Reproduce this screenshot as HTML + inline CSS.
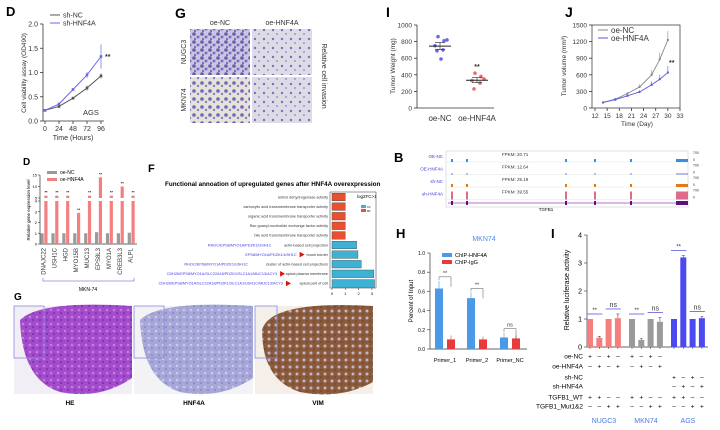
<!DOCTYPE html>
<html><head><meta charset="utf-8">
<style>
html,body{margin:0;padding:0;background:#fff;}
svg{display:block;font-family:"Liberation Sans",Arial,sans-serif;}
</style></head>
<body>
<svg id="fig" width="720" height="430" viewBox="0 0 720 430" xmlns="http://www.w3.org/2000/svg">
<defs>
<pattern id="invDense" width="8" height="8" patternUnits="userSpaceOnUse">
<rect width="8" height="8" fill="#c9c6e0"/><circle cx="2" cy="2" r="1.8" fill="#6a5cb0"/><circle cx="6" cy="5" r="1.5" fill="#7b6fc0"/><circle cx="3" cy="7" r="1" fill="#5d50a8"/>
</pattern>
<pattern id="invSparse" width="9" height="9" patternUnits="userSpaceOnUse">
<rect width="9" height="9" fill="#dcdbe6"/><circle cx="3" cy="3" r="1.2" fill="#7a70bb"/><circle cx="7" cy="7" r="0.9" fill="#8c84c4"/>
</pattern>
<pattern id="invMid" width="8" height="8" patternUnits="userSpaceOnUse">
<rect width="8" height="8" fill="#e4e2da"/><circle cx="2" cy="3" r="1.8" fill="#7466b8"/><circle cx="6" cy="6" r="1.2" fill="#8a7dc6"/>
</pattern>
<pattern id="heTex" width="7" height="7" patternUnits="userSpaceOnUse">
<rect width="7" height="7" fill="#a24ccc"/><circle cx="2" cy="2" r="1.3" fill="#c77be0"/><circle cx="5" cy="5" r="1" fill="#7a2fae"/>
</pattern>
<pattern id="hnfTex" width="7" height="7" patternUnits="userSpaceOnUse">
<rect width="7" height="7" fill="#a6a6d8"/><circle cx="2" cy="2" r="1.3" fill="#c9c9ea"/><circle cx="5" cy="5" r="1" fill="#8a88c4"/>
</pattern>
<pattern id="vimTex" width="7" height="7" patternUnits="userSpaceOnUse">
<rect width="7" height="7" fill="#8a5a3a"/><circle cx="3" cy="3" r="1.5" fill="#c4b4c8"/><circle cx="6" cy="6" r="0.8" fill="#6a3e22"/>
</pattern>
</defs>

<!-- Panel letters -->
<text x="6" y="16" font-size="13" font-weight="bold">D</text>
<text x="175" y="18" font-size="14" font-weight="bold">G</text>
<text x="386" y="17" font-size="14" font-weight="bold">I</text>
<text x="565" y="17" font-size="14" font-weight="bold">J</text>
<text x="23" y="165" font-size="10" font-weight="bold">D</text>
<text x="148" y="172" font-size="11" font-weight="bold">F</text>
<text x="394" y="162" font-size="13" font-weight="bold">B</text>
<text x="396" y="238" font-size="13" font-weight="bold">H</text>
<text x="551" y="238" font-size="13" font-weight="bold">I</text>
<text x="14" y="300" font-size="10" font-weight="bold">G</text>

<!-- Invasion images -->
<g>
<text x="220" y="25" font-size="7" text-anchor="middle" fill="#333">oe-NC</text>
<text x="282" y="25" font-size="7" text-anchor="middle" fill="#333">oe-HNF4A</text>
<rect x="190" y="29" width="60" height="46" fill="url(#invDense)"/>
<rect x="252" y="29" width="60" height="46" fill="url(#invSparse)"/>
<rect x="190" y="77" width="60" height="46" fill="url(#invMid)"/>
<rect x="252" y="77" width="60" height="46" fill="url(#invSparse)"/>
<text transform="translate(186,52) rotate(-90)" font-size="7" text-anchor="middle" fill="#333">NUGC3</text>
<text transform="translate(186,100) rotate(-90)" font-size="7" text-anchor="middle" fill="#333">MKN74</text>
<text transform="translate(322,76) rotate(90)" font-size="7" text-anchor="middle" fill="#333">Relative cell invasion</text>
</g>

<!-- Track panel B -->
<g id="tracks"></g>

<!-- Bottom IHC images -->
<g>
<rect x="14" y="306" width="118" height="88" fill="#f1eef6"/>
<path d="M20,320 Q40,300 132,306 L132,378 Q100,400 60,392 Q22,380 20,320Z" fill="url(#heTex)"/>
<rect x="14" y="306" width="30" height="52" fill="none" stroke="#8a8ae0" stroke-width="0.8"/>
<rect x="134" y="306" width="119" height="88" fill="#f3f2f4"/>
<path d="M140,320 Q160,300 253,306 L253,378 Q220,400 180,392 Q142,380 140,320Z" fill="url(#hnfTex)"/>
<rect x="134" y="306" width="30" height="52" fill="none" stroke="#8a8ae0" stroke-width="0.8"/>
<rect x="255" y="306" width="118" height="88" fill="#f4efe8"/>
<path d="M262,330 Q270,300 373,306 L373,382 Q340,400 300,392 Q262,380 262,330Z" fill="url(#vimTex)"/>
<rect x="255" y="306" width="22" height="52" fill="none" stroke="#8a8ae0" stroke-width="0.8"/>
<text x="70" y="405" font-size="6.5" font-weight="bold" text-anchor="middle">HE</text>
<text x="194" y="405" font-size="6.5" font-weight="bold" text-anchor="middle">HNF4A</text>
<text x="318" y="405" font-size="6.5" font-weight="bold" text-anchor="middle">VIM</text>
</g>
</svg>

<script>
// ---------- Data ----------
const dHours = [0, 24, 48, 72, 96];
const dShNC = [0.22, 0.30, 0.47, 0.68, 0.93];
const dShHNF4A = [0.22, 0.35, 0.65, 0.95, 1.33];
const dShNCErr = [0.02, 0.03, 0.03, 0.05, 0.05];
const dShHNF4AErr = [0.02, 0.03, 0.03, 0.06, 0.25];
const dYTicks = [0.0, 0.5, 1.0, 1.5, 2.0];

const iNC = [860, 810, 820, 750, 700, 690, 590];
const iHNF = [420, 380, 350, 330, 300, 230];
const iTicks = [0, 200, 400, 600, 800, 1000];

const jDays = [14, 17, 20, 23, 26, 28, 30];
const jNC = [100, 160, 260, 380, 600, 880, 1230];
const jHNF = [100, 150, 220, 290, 420, 520, 640];
const jNCErr = [10, 20, 25, 50, 90, 120, 160];
const jHNFErr = [10, 15, 20, 30, 60, 80, 120];
const jXTicks = [12, 15, 18, 21, 24, 27, 30, 33];
const jYTicks = [0, 300, 600, 900, 1200, 1500];

const geneNames = ["DNAJC22","USH1C","HGD","MYO15B","MUC13","EPS8L3","MYO1A","CREB3L3","ALPL"];
const geneNC = [1, 1, 1, 1, 1, 1.1, 1, 1, 1.05];
const geneHNF = [6, 6, 6, 2.9, 6, 14, 6, 10, 6];

const fTerms = ["retinol dehydrogenase activity","carboxylic acid transmembrane transporter activity","organic acid transmembrane transporter activity","Rac guanyl-nucleotide exchange factor activity","bile acid transmembrane transporter activity","actin-based cell projection","brush border","cluster of actin-based cell projections","apical plasma membrane","apical part of cell"];
const fGenes = ["","","","","","RHOC/EPS8/MYO1A/PDZK1/USH1C","EPS8/MYO1A/PDZK1/USH1C","RHOC/EPS8/MYO1A/PDZK1/USH1C","CDH26/EPS8/MYO1A/SLC22A18/PDZK1/SLC1A1/MUC13/ACY3","CDH26/EPS8/MYO1A/SLC22A18/PDZK1/SLC1A1/USH1C/MUC13/ACY3"];
const fValues = [1.0, 1.0, 1.0, 1.0, 1.0, 1.85, 1.95, 2.2, 3.15, 3.2];
const fTypes = ["MF","MF","MF","MF","MF","CC","CC","CC","CC","CC"];
const fArrow = [false,false,false,false,false,false,true,false,true,true];

const trackNames = ["OE-NC","OE-HNF4A","sh-NC","sh-HNF4A"];
const trackFPKM = ["FPKM: 20.71","FPKM: 12.64","FPKM: 25.19","FPKM: 39.55"];

const hGroups = ["Primer_1","Primer_2","Primer_NC"];
const hChip = [0.63, 0.53, 0.12];
const hIgG = [0.10, 0.10, 0.11];
const hChipErr = [0.08, 0.06, 0.05];
const hIgGErr = [0.04, 0.03, 0.03];
const hTicks = [0.0, 0.2, 0.4, 0.6, 0.8, 1.0];
const hSig = ["**","**","ns"];

const lucValues = [1, 0.33, 1, 1.03, 1, 0.25, 1, 0.9, 1, 3.2, 1, 1.03];
const lucErr = [0, 0.05, 0, 0.15, 0, 0.05, 0, 0.15, 0, 0.07, 0, 0.06];
const lucCells = ["NUGC3","MKN74","AGS"];
const lucSig = ["**","ns","**","ns","**","ns"];
const lucTicks = [0, 1, 2, 3, 4];
const lucRowLabels = ["oe-NC","oe-HNF4A","sh-NC","sh-HNF4A","TGFB1_WT","TGFB1_Mut1&2"];
const lucSigns = [
 ["+","-","+","-","+","-","+","-","","","",""],
 ["-","+","-","+","-","+","-","+","","","",""],
 ["","","","","","","","","+","-","+","-"],
 ["","","","","","","","","-","+","-","+"],
 ["+","+","-","-","+","+","-","-","+","+","-","-"],
 ["-","-","+","+","-","-","+","+","-","-","+","+"]
];

// ---------- helpers ----------
const NS = "http://www.w3.org/2000/svg";
const svg = document.getElementById("fig");
function el(tag, attrs, parent, txt) {
  const e = document.createElementNS(NS, tag);
  for (const k in attrs) e.setAttribute(k, attrs[k]);
  if (txt !== undefined) e.textContent = txt;
  (parent || svg).appendChild(e);
  return e;
}
function lin(d0, d1, r0, r1) { return v => r0 + (v - d0) * (r1 - r0) / (d1 - d0); }

// ---------- Panel D top: line chart ----------
(function(){
  const g = el("g", {});
  
  
  const x = lin(0, 96, 45, 101), y = lin(0, 2, 121, 24);
  el("line", {x1:43,y1:24,x2:43,y2:121,stroke:"#333","stroke-width":0.8}, g);
  el("line", {x1:43,y1:121,x2:104,y2:121,stroke:"#333","stroke-width":0.8}, g);
  dYTicks.forEach(t => {
    el("line", {x1:40,y1:y(t),x2:43,y2:y(t),stroke:"#333","stroke-width":0.8}, g);
    const tx = el("text", {x:38,y:y(t)+2.5,"font-size":7,"text-anchor":"end",fill:"#333"}, g, t.toFixed(1));
    
    
  });
  dHours.forEach(t => {
    el("line", {x1:x(t),y1:121,x2:x(t),y2:124,stroke:"#333","stroke-width":0.8}, g);
    const tx = el("text", {x:x(t),y:131,"font-size":7,"text-anchor":"middle",fill:"#333"}, g, t);
    
    
  });
  const xt = el("text", {x:73,y:140,"font-size":7,"text-anchor":"middle",fill:"#333"}, g, "Time (Hours)");
  
  
  const yt = el("text", {transform:"translate(26,73) rotate(-90)","font-size":6.5,"text-anchor":"middle",fill:"#333"}, g, "Cell viability assay (OD490)");
  
  
  [[dShNC, dShNCErr, "#555", "sh-nc-line"], [dShHNF4A, dShHNF4AErr, "#6a6ae8", "sh-hnf4a-line"]].forEach(([vals, errs, c, nm]) => {
    const p = el("polyline", {points: vals.map((v,i)=>x(dHours[i])+","+y(v)).join(" "), fill:"none", stroke:c, "stroke-width":1}, g);
    
    
    vals.forEach((v,i) => {
      el("line", {x1:x(dHours[i]),y1:y(v-errs[i]),x2:x(dHours[i]),y2:y(v+errs[i]),stroke:c,"stroke-width":0.7}, g);
      const pt = el("rect", {x:x(dHours[i])-1.3,y:y(v)-1.3,width:2.6,height:2.6,fill:c}, g);
      
      
    });
  });
  el("line",{x1:50,y1:15,x2:60,y2:15,stroke:"#555","stroke-width":1},g);
  el("line",{x1:50,y1:23,x2:60,y2:23,stroke:"#6a6ae8","stroke-width":1},g);
  const l1 = el("text",{x:63,y:17.5,"font-size":7,fill:"#333"},g,"sh-NC");
  
  
  const l2 = el("text",{x:63,y:25.5,"font-size":7,fill:"#333"},g,"sh-HNF4A");
  
  
  el("text",{x:105,y:59,"font-size":7,"font-weight":"bold",fill:"#333"},g,"**");
  el("text",{x:83,y:115,"font-size":7.5,fill:"#333"},g,"AGS");
})();

// ---------- Panel I top: dot plot ----------
(function(){
  const g = el("g", {});
  
  
  const y = lin(0, 1000, 108, 25);
  el("line",{x1:417,y1:25,x2:417,y2:108,stroke:"#333","stroke-width":0.8},g);
  el("line",{x1:417,y1:108,x2:494,y2:108,stroke:"#333","stroke-width":0.8},g);
  iTicks.forEach(t=>{
    el("line",{x1:414,y1:y(t),x2:417,y2:y(t),stroke:"#333","stroke-width":0.8},g);
    const tx = el("text",{x:412,y:y(t)+2.5,"font-size":6.5,"text-anchor":"end",fill:"#333"},g,t);
    
    
  });
  const yt = el("text",{transform:"translate(395,66) rotate(-90)","font-size":6.5,"text-anchor":"middle",fill:"#333"},g,"Tumor Weight (mg)");
  
  
  const c1 = el("text",{x:440,y:121,"font-size":8,"text-anchor":"middle",fill:"#333"},g,"oe-NC");
  
  
  const c2 = el("text",{x:477,y:121,"font-size":8,"text-anchor":"middle",fill:"#333"},g,"oe-HNF4A");
  
  
  const offs = [-2,4,7,-5,3,-3,1];
  [[iNC,440,"#6a6ae8"],[iHNF,477,"#f06a6a"]].forEach(([vals,cx,c])=>{
    const mean = vals.reduce((a,b)=>a+b,0)/vals.length;
    const sd = Math.sqrt(vals.reduce((a,b)=>a+(b-mean)*(b-mean),0)/vals.length)/2;
    vals.forEach((v,i)=>{
      const d = el("circle",{cx:cx+offs[i%offs.length],cy:y(v),r:1.8,fill:c},g);
      
      
    });
    el("line",{x1:cx-11,y1:y(mean),x2:cx+11,y2:y(mean),stroke:"#222","stroke-width":1},g);
    el("line",{x1:cx,y1:y(mean-sd),x2:cx,y2:y(mean+sd),stroke:"#222","stroke-width":0.6},g);
    el("line",{x1:cx-5,y1:y(mean-sd),x2:cx+5,y2:y(mean-sd),stroke:"#222","stroke-width":0.6},g);
    el("line",{x1:cx-5,y1:y(mean+sd),x2:cx+5,y2:y(mean+sd),stroke:"#222","stroke-width":0.6},g);
  });
  el("text",{x:477,y:y(Math.max(...iHNF))-4,"font-size":7,"font-weight":"bold","text-anchor":"middle",fill:"#333"},g,"**");
})();

// ---------- Panel J ----------
(function(){
  const g = el("g", {});
  
  
  const x = lin(12, 33, 595, 680), y = lin(0, 1500, 108, 25);
  el("rect",{x:592,y:25,width:88,height:83,fill:"none",stroke:"#444","stroke-width":0.8},g);
  jYTicks.forEach(t=>{
    el("line",{x1:589,y1:y(t),x2:592,y2:y(t),stroke:"#333","stroke-width":0.8},g);
    const tx = el("text",{x:587,y:y(t)+2.5,"font-size":6.5,"text-anchor":"end",fill:"#333"},g,t);
    
    
  });
  jXTicks.forEach(t=>{
    el("line",{x1:x(t),y1:108,x2:x(t),y2:111,stroke:"#333","stroke-width":0.8},g);
    const tx = el("text",{x:x(t),y:118,"font-size":6.5,"text-anchor":"middle",fill:"#333"},g,t);
    
    
  });
  const xt = el("text",{x:637,y:126,"font-size":6.5,"text-anchor":"middle",fill:"#333"},g,"Time (Day)");
  
  
  const yt = el("text",{transform:"translate(566,66) rotate(-90)","font-size":6.5,"text-anchor":"middle",fill:"#333"},g,"Tumor volume (mm³)");
  
  
  [[jNC,jNCErr,"#888","oe-nc-line"],[jHNF,jHNFErr,"#5a5ae0","oe-hnf4a-line"]].forEach(([vals,errs,c,nm])=>{
    const p = el("polyline",{points:vals.map((v,i)=>x(jDays[i])+","+y(v)).join(" "),fill:"none",stroke:c,"stroke-width":0.9},g);
    
    
    vals.forEach((v,i)=>{
      el("line",{x1:x(jDays[i]),y1:y(v),x2:x(jDays[i]),y2:y(v+errs[i]),stroke:c,"stroke-width":0.6},g);
      const pt = el("rect",{x:x(jDays[i])-1,y:y(v)-1,width:2,height:2,fill:c},g);
      
      
    });
  });
  el("line",{x1:598,y1:30,x2:608,y2:30,stroke:"#888","stroke-width":1},g);
  el("line",{x1:598,y1:38,x2:608,y2:38,stroke:"#5a5ae0","stroke-width":1},g);
  const l1 = el("text",{x:611,y:33,"font-size":8,fill:"#333"},g,"oe-NC");
  
  
  const l2 = el("text",{x:611,y:41,"font-size":8,fill:"#333"},g,"oe-HNF4A");
  
  
  el("text",{x:669,y:65,"font-size":7,"font-weight":"bold",fill:"#333"},g,"**");
})();

// ---------- Panel D bottom: gene expression bars ----------
(function(){
  const g = el("g", {});
  
  
  const yLow = lin(0, 4, 244, 201), yHigh = lin(5, 15, 198, 175);
  const yv = v => v <= 4 ? yLow(v) : yHigh(v);
  el("line",{x1:40,y1:175,x2:40,y2:244,stroke:"#333","stroke-width":0.7},g);
  el("line",{x1:40,y1:244,x2:137,y2:244,stroke:"#333","stroke-width":0.7},g);
  [0,1,2,3,4].forEach(t=>{ el("line",{x1:38,y1:yLow(t),x2:40,y2:yLow(t),stroke:"#333","stroke-width":0.6},g); el("text",{x:37,y:yLow(t)+1.5,"font-size":4,"text-anchor":"end"},g,t); });
  [5,10,15].forEach(t=>{ el("line",{x1:38,y1:yHigh(t),x2:40,y2:yHigh(t),stroke:"#333","stroke-width":0.6},g); el("text",{x:37,y:yHigh(t)+1.5,"font-size":4,"text-anchor":"end"},g,t); });
  const yt = el("text",{transform:"translate(30,210) rotate(-90)","font-size":4.5,"text-anchor":"middle"},g,"Relative gene expression level");
  
  
  const x0 = 44, step = 10.9, bw = 3.2;
  geneNames.forEach((n,i)=>{
    const cx = x0 + i*step;
    const b1 = el("rect",{x:cx-bw-0.3,y:yLow(geneNC[i]),width:bw,height:244-yLow(geneNC[i]),fill:"#9a9a9a"},g);
    
    
    const v = geneHNF[i];
    const top = v <= 4 ? yLow(v) : yLow(4);
    const b2 = el("rect",{x:cx+0.3,y:top,width:bw,height:244-top,fill:"#f47f7f"},g);
    
    
    if (v > 4) {
      const b3 = el("rect",{x:cx+0.3,y:yHigh(v),width:bw,height:Math.max(2,198-yHigh(v)),fill:"#f47f7f"},g);
      
      
    }
    el("text",{x:cx+2,y:yv(v)-2,"font-size":4,"text-anchor":"middle","font-weight":"bold"},g,"**");
    const lb = el("text",{transform:"translate("+(cx+1.5)+",248) rotate(-90)","font-size":6,"text-anchor":"end",fill:"#333"},g,n);
    
    
  });
  el("path",{d:"M43,278 L43,281 L134,281 L134,278",fill:"none",stroke:"#8a8ae0","stroke-width":0.8},g);
  el("text",{x:88,y:291,"font-size":5,"text-anchor":"middle"},g,"MKN-74");
  el("rect",{x:47,y:171,width:10,height:3,fill:"#9a9a9a"},g);
  el("rect",{x:47,y:178,width:10,height:3,fill:"#f47f7f"},g);
  const l1 = el("text",{x:60,y:174,"font-size":5},g,"oe-NC");
  
  
  const l2 = el("text",{x:60,y:181,"font-size":5},g,"oe-HNF4A");
  
  
})();

// ---------- Panel F: enrichment bars ----------
(function(){
  const g = el("g", {});
  
  
  const x = lin(0, 1, 332, 345.3);
  const rowY = i => 197 + i*9.6;
  const t = el("text",{x:165,y:186,"font-size":6.3,"font-weight":"bold"},g,"Functional annoation of upregulated genes after HNF4A overexpression");
  
  
  el("rect",{x:330,y:192,width:46,height:96,fill:"none",stroke:"#555","stroke-width":0.6},g);
  fTerms.forEach((term,i)=>{
    const yy = rowY(i);
    const c = fTypes[i] === "MF" ? "#e8502f" : "#3db2d4";
    const b = el("rect",{x:332,y:yy-3.8,width:x(fValues[i])-332,height:7.6,fill:c,stroke:"#444","stroke-width":0.4},g);
    
    
    const lt = el("text",{x:328,y:yy+1.3,"font-size":3.8,"text-anchor":"end",fill:"#333"},g,term);
    
    
    const tw = term.length * 1.95;
    if (fArrow[i]) el("path",{d:"M"+(323-tw)+","+(yy-2.8)+" L"+(328-tw)+","+yy+" L"+(323-tw)+","+(yy+2.8)+"Z",fill:"#e01010"},g);
    if (fGenes[i]) {
      const gx = 328 - tw - (fArrow[i] ? 8 : 4);
      const gt = el("text",{x:gx,y:yy+1.3,"font-size":3.8,"text-anchor":"end",fill:"#3a3ae0"},g,fGenes[i]);
      
      
    }
  });
  [0,1,2,3].forEach(tk=>{
    el("line",{x1:x(tk),y1:288,x2:x(tk),y2:290,stroke:"#333","stroke-width":0.5},g);
    el("text",{x:x(tk),y:295,"font-size":4,"text-anchor":"middle"},g,tk);
  });
  el("text",{x:357,y:198,"font-size":4.5},g,"log2FC>1");
  el("rect",{x:361,y:205,width:5,height:3,fill:"#3db2d4"},g);
  el("rect",{x:361,y:209,width:5,height:3,fill:"#e8502f"},g);
  el("text",{x:367,y:208,"font-size":2.5},g,"CC");
  el("text",{x:367,y:212,"font-size":2.5},g,"MF");
})();

// ---------- Panel B: tracks ----------
(function(){
  const g = document.getElementById("tracks");
  el("rect",{x:446,y:151,width:242,height:56,fill:"none",stroke:"#ccc","stroke-width":0.6},g);
  const colors = ["#3a8ee0","#7a7ae0","#e07a1a","#e06a8a"];
  const peaks = [451,466,565,594,630,676];
  trackNames.forEach((n,i)=>{
    const ty = 158 + i*12.5;
    const lt = el("text",{x:443,y:ty,"font-size":4.5,"text-anchor":"end",fill:"#3a3ae0"},g,n);
    
    
    el("text",{x:502,y:ty-2,"font-size":4.5,fill:"#333"},g,trackFPKM[i]);
    el("line",{x1:446,y1:ty+4,x2:688,y2:ty+4,stroke:"#ddd","stroke-width":0.4},g);
    peaks.forEach((p,k)=>{
      const h = i===1 ? 1 : (i===3 ? 8 : 3);
      const pk = el("rect",{x:p,y:ty+4-h,width:k===5?12:2,height:h,fill:colors[i]},g);
      
      
    });
    el("text",{x:693,y:ty-4,"font-size":3.5,fill:"#333"},g,"700");
    el("text",{x:693,y:ty+3,"font-size":3.5,fill:"#333"},g,"0");
  });
  el("line",{x1:448,y1:203,x2:688,y2:203,stroke:"#a040c0","stroke-width":0.8},g);
  peaks.forEach((p,k)=> el("rect",{x:p,y:201,width:k===5?12:2,height:4,fill:"#5a1080"},g));
  el("text",{x:546,y:211,"font-size":4.5,"text-anchor":"middle"},g,"TGFB1");
})();

// ---------- Panel H: ChIP ----------
(function(){
  const g = el("g", {});
  
  
  const y = lin(0, 1, 349, 253);
  el("text",{x:484,y:241,"font-size":7,"text-anchor":"middle",fill:"#4a8ae8"},g,"MKN74");
  el("line",{x1:430,y1:253,x2:430,y2:349,stroke:"#333","stroke-width":0.7},g);
  el("line",{x1:430,y1:349,x2:527,y2:349,stroke:"#333","stroke-width":0.7},g);
  hTicks.forEach(t=>{
    el("line",{x1:427,y1:y(t),x2:430,y2:y(t),stroke:"#333","stroke-width":0.6},g);
    const tx = el("text",{x:425,y:y(t)+2,"font-size":5,"text-anchor":"end"},g,t.toFixed(1));
    
    
  });
  const yt = el("text",{transform:"translate(413,301) rotate(-90)","font-size":6,"text-anchor":"middle"},g,"Percent of Input");
  
  
  const centers = [445, 477, 510];
  hGroups.forEach((n,i)=>{
    const c = centers[i];
    const b1 = el("rect",{x:c-10,y:y(hChip[i]),width:8,height:349-y(hChip[i]),fill:"#4a9ae8"},g);
    
    
    el("line",{x1:c-6,y1:y(hChip[i]),x2:c-6,y2:y(hChip[i]+hChipErr[i]),stroke:"#4a9ae8","stroke-width":0.6},g);
    const b2 = el("rect",{x:c+2,y:y(hIgG[i]),width:8,height:349-y(hIgG[i]),fill:"#e83a3a"},g);
    
    
    el("line",{x1:c+6,y1:y(hIgG[i]),x2:c+6,y2:y(hIgG[i]+hIgGErr[i]),stroke:"#e83a3a","stroke-width":0.6},g);
    const top = y(Math.max(hChip[i]+hChipErr[i], hIgG[i]+hIgGErr[i])) - 4;
    el("path",{d:"M"+(c-6)+","+(top+3)+" L"+(c-6)+","+top+" L"+(c+6)+","+top+" L"+(c+6)+","+(top+10)},g).setAttribute("style","fill:none;stroke:#555;stroke-width:0.5");
    el("text",{x:c,y:top-2,"font-size":5.5,"text-anchor":"middle",fill:"#333"},g,hSig[i]);
    const lb = el("text",{x:c,y:362,"font-size":5.5,"text-anchor":"middle"},g,n);
    
    
  });
  el("rect",{x:442,y:253,width:10,height:4,fill:"#4a9ae8"},g);
  el("rect",{x:442,y:260,width:10,height:4,fill:"#e83a3a"},g);
  const l1 = el("text",{x:455,y:257,"font-size":5.5},g,"ChIP-HNF4A");
  
  
  const l2 = el("text",{x:455,y:264,"font-size":5.5},g,"ChIP-IgG");
  
  
})();

// ---------- Panel I bottom: luciferase ----------
(function(){
  const g = el("g", {});
  
  
  const y = lin(0, 4, 347, 235);
  el("line",{x1:587,y1:235,x2:587,y2:347,stroke:"#333","stroke-width":0.7},g);
  el("line",{x1:587,y1:347,x2:708,y2:347,stroke:"#333","stroke-width":0.7},g);
  lucTicks.forEach(t=>{
    el("line",{x1:584,y1:y(t),x2:587,y2:y(t),stroke:"#333","stroke-width":0.6},g);
    const tx = el("text",{x:582,y:y(t)+2.5,"font-size":7,"text-anchor":"end"},g,t);
    
    
  });
  const yt = el("text",{transform:"translate(569,290) rotate(-90)","font-size":7,"text-anchor":"middle"},g,"Relative luciferase activity");
  
  
  const cellColors = ["#f47f7f","#9a9a9a","#4a4af0"];
  const xs = [];
  lucValues.forEach((v,i)=>{
    const grp = Math.floor(i/4);
    const cx = 590 + grp*42 + (i%4)*9.3;
    xs.push(cx);
    const b = el("rect",{x:cx-3,y:y(v),width:6,height:347-y(v),fill:cellColors[grp]},g);
    
    
    if (lucErr[i]>0) {
      el("line",{x1:cx,y1:y(v),x2:cx,y2:y(v+lucErr[i]),stroke:"#333","stroke-width":0.5},g);
      el("line",{x1:cx-1.5,y1:y(v+lucErr[i]),x2:cx+1.5,y2:y(v+lucErr[i]),stroke:"#333","stroke-width":0.5},g);
    }
    el("line",{x1:cx,y1:347,x2:cx,y2:349,stroke:"#333","stroke-width":0.5},g);
  });
  lucSig.forEach((s,k)=>{
    const a = xs[k*2], b = xs[k*2+1];
    const top = y(Math.max(lucValues[k*2]+lucErr[k*2], lucValues[k*2+1]+lucErr[k*2+1])) - 5;
    el("line",{x1:a-3,y1:top,x2:b+3,y2:top,stroke:"#5a5ae0","stroke-width":0.8},g);
    el("text",{x:(a+b)/2,y:top-2,"font-size":s==="**"?6:7,"text-anchor":"middle",fill:"#333"},g,s);
  });
  const rowY = [356,366,377,386,397,406];
  lucRowLabels.forEach((lab,r)=>{
    const lt = el("text",{x:583,y:rowY[r]+2.5,"font-size":6.5,"text-anchor":"end"},g,lab);
    
    
    lucSigns[r].forEach((s,i)=>{ if (s) el("text",{x:xs[i],y:rowY[r]+2.5,"font-size":6.5,"text-anchor":"middle"},g,s==="-"?"–":s); });
  });
  lucCells.forEach((c,k)=>{
    const lt = el("text",{x:(xs[k*4]+xs[k*4+3])/2,y:423,"font-size":7,"text-anchor":"middle",fill:"#4a7ae8"},g,c);
    
    
  });
})();
</script>
</body></html>
